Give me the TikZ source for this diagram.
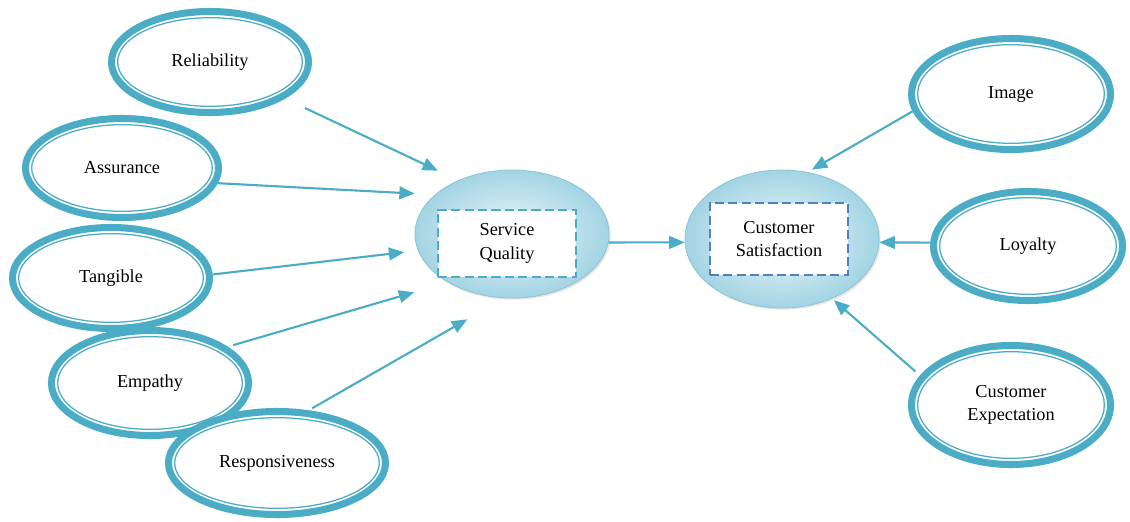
\documentclass[tikz,border=0pt]{standalone}
\usepackage{fontspec}
\setmainfont{Liberation Serif}
\usetikzlibrary{shapes.geometric,arrows.meta,calc,shadows}

\definecolor{ringc}{HTML}{4BACC6}
\definecolor{dashc}{HTML}{4F81BD}
\definecolor{fillin}{HTML}{EDF7FA}
\definecolor{fillout}{HTML}{A3D4E3}
\definecolor{rimc}{HTML}{8CC6D8}

\begin{document}
\begin{tikzpicture}[x=0.025cm,y=-0.025cm,font=\fontsize{13}{16.5}\selectfont,
	ring/.style={ellipse,draw=ringc,fill=white,line width=5pt,inner sep=0pt,align=center,
		path picture={\draw[ringc,line width=0.9pt]
			let \p1=($(path picture bounding box.north east)-(path picture bounding box.center)$)
			in (path picture bounding box.center) ellipse [x radius=\x1-4.4pt,y radius=\y1-4.4pt];}},
	core/.style={ellipse,draw=rimc,line width=0.6pt,inner sep=0pt,
		inner color=fillin,outer color=fillout,
		drop shadow={shadow xshift=1.2pt,shadow yshift=-1.2pt,opacity=.2}},
	dbox/.style={rectangle,draw,fill=white,line width=1.4pt,dash pattern=on 6.5pt off 3pt,
		inner sep=0pt,align=center,minimum width=3.45cm},
	arr/.style={draw=ringc,line width=1.5pt,-{Triangle[length=11pt,width=9pt]}}]
	\useasboundingbox (0,0) rectangle (1130,521);
	%========
	%Dimensions
	%========
	\node[ring,minimum width=4.925cm,minimum height=2.525cm] (rel) at (210,62) {Reliability};
	\node[ring,minimum width=4.825cm,minimum height=2.475cm] (ass) at (122,168) {Assurance};
	\node[ring,minimum width=4.925cm,minimum height=2.525cm] (tan) at (111,278) {Tangible};
	\node[ring,minimum width=4.925cm,minimum height=2.625cm] (emp) at (150,383) {Empathy};
	\node[ring,minimum width=5.425cm,minimum height=2.575cm] (resp) at (277,463) {Responsiveness};

	%========
	%Antecedents
	%========
	\node[ring,minimum width=4.975cm,minimum height=2.775cm] (img) at (1011,94) {Image};
	\node[ring,minimum width=4.725cm,minimum height=2.725cm] (loy) at (1028,246) {Loyalty};
	\node[ring,minimum width=4.975cm,minimum height=2.975cm] (ce) at (1011,405) {Customer\\Expectation};

	%========
	%Constructs
	%========
	\node[core,minimum width=4.85cm,minimum height=3.2cm] (sq) at (512,234) {};
	\node[dbox,draw=ringc,minimum height=1.675cm] (sqbox) at (507,243.5) {Service\\Quality};
	\node[core,minimum width=4.85cm,minimum height=3.45cm] (cs) at (782,239) {};
	\node[dbox,draw=dashc,minimum height=1.8cm] (csbox) at (779,239) {Customer\\Satisfaction};

	%========
	%Paths
	%========
	\draw[arr,shorten <=0.55cm,shorten >=0.56cm] (rel.-26) -- (sq.135);
	\draw[arr,shorten >=0.5cm] (ass.-9) -- (sq.153);
	\draw[arr,shorten >=0.34cm] (tan.2) -- (sq.190);
	\draw[arr,shorten <=0.14cm,shorten >=0.87cm] (emp.25) -- (sq.217);
	\draw[arr,shorten <=0.1cm,shorten >=1.06cm] (resp.59) -- (sq.263);

	\draw[arr] (sq.-5) -- (cs.182);

	\draw[arr,shorten >=0.12cm] (img.190) -- (cs.69);
	\draw[arr] (loy.178) -- (cs.-2);
	\draw[arr,shorten <=0.15cm,shorten >=0.06cm] (ce.162) -- (cs.-50);
\end{tikzpicture}
\end{document}
